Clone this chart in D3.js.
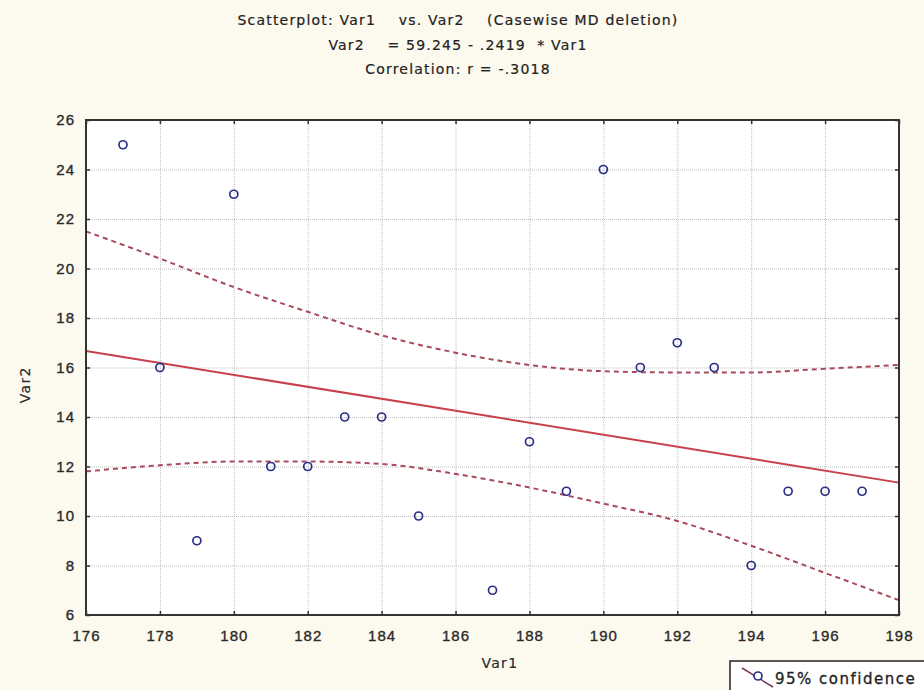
<!DOCTYPE html>
<html>
<head>
<meta charset="utf-8">
<script src="https://cdn.jsdelivr.net/npm/d3@7"></script>
<style>
  body { margin: 0; background: #fcf9ee; }
  svg { display: block; font-family: "DejaVu Sans", Verdana, sans-serif; }
  .grid line { stroke: #bdbdbd; stroke-dasharray: 1,1; }
  .grid path { display: none; }
  .axis path { display: none; }
  .axis line { stroke: #333; stroke-width: 1.5; }
  .axis text { font-size: 15px; fill: #2a2a2a; stroke: #2a2a2a; stroke-width: 0.35px; letter-spacing: 1px; }
  .title { font-size: 14px; fill: #222; stroke: #222; stroke-width: 0.2px; white-space: pre; letter-spacing: 1.2px; }
  .axis-label { font-size: 14px; fill: #2a2a2a; stroke: #2a2a2a; stroke-width: 0.2px; letter-spacing: 1.3px; }
</style>
</head>
<body>
<svg id="chart" width="924" height="690"></svg>
<script>
// observations
const var1 = [177, 178, 179, 180, 181, 182, 183, 184, 185, 187, 188, 189, 190, 191, 192, 193, 194, 195, 196, 197];
const var2 = [25, 16, 9, 23, 12, 12, 14, 14, 10, 7, 13, 11, 24, 16, 17, 16, 8, 11, 11, 11];

// regression (from title)
const intercept = 59.245;
const slope = -0.2419;

// 95% confidence band
const bandX = [176, 178, 180, 182, 184, 186, 188, 190, 192, 194, 196, 198];
const bandUpper = [21.5, 20.4, 19.25, 18.25, 17.3, 16.6, 16.1, 15.85, 15.8, 15.8, 15.95, 16.1];
const bandLower = [11.8, 12.05, 12.2, 12.2, 12.1, 11.7, 11.15, 10.5, 9.8, 8.8, 7.7, 6.6];

const xTicks = [176, 178, 180, 182, 184, 186, 188, 190, 192, 194, 196, 198];
const yTicks = [6, 8, 10, 12, 14, 16, 18, 20, 22, 24, 26];

const titleLines = [
    'Scatterplot: Var1    vs. Var2    (Casewise MD deletion)',
    'Var2    = 59.245 - .2419  * Var1',
    'Correlation: r = -.3018'
];

const margin = {top: 120, right: 25, bottom: 75, left: 86};
const width = 924 - margin.left - margin.right;
const height = 690 - margin.top - margin.bottom;

const root = d3.select('#chart');

// titles
root.selectAll('.title')
    .data(titleLines)
    .enter()
    .append('text')
    .attr('class', 'title')
    .attr('x', 458)
    .attr('y', (d, i) => 25 + i * 24.5)
    .attr('text-anchor', 'middle')
    .text(d => d);

const svg = root.append('g')
    .attr('transform', `translate(${margin.left},${margin.top})`);

const x = d3.scaleLinear().domain([176, 198]).range([0, width]);
const y = d3.scaleLinear().domain([6, 26]).range([height, 0]);

// plot background
svg.append('rect')
    .attr('width', width)
    .attr('height', height)
    .attr('fill', '#fff');

// grid lines
svg.append('g')
    .attr('class', 'grid')
    .call(d3.axisLeft(y).tickValues(yTicks).tickSize(-width).tickFormat(''));

svg.append('g')
    .attr('class', 'grid')
    .attr('transform', `translate(0,${height})`)
    .call(d3.axisBottom(x).tickValues(xTicks).tickSize(-height).tickFormat(''));

// confidence band
const band = d3.line()
    .x(d => x(d[0]))
    .y(d => y(d[1]))
    .curve(d3.curveMonotoneX);

[bandUpper, bandLower].forEach(vals => {
    svg.append('path')
        .datum(bandX.map((v, i) => [v, vals[i]]))
        .attr('d', band)
        .attr('fill', 'none')
        .attr('stroke', '#a84a5c')
        .attr('stroke-width', 2)
        .attr('stroke-dasharray', '5,4');
});

// regression line
svg.append('line')
    .attr('x1', x(176))
    .attr('y1', y(intercept + slope * 176))
    .attr('x2', x(198))
    .attr('y2', y(intercept + slope * 198))
    .attr('stroke', '#c8404c')
    .attr('stroke-width', 2);

// dots
svg.selectAll('circle.dot')
    .data(var1.map((v, i) => ({x: v, y: var2[i]})))
    .enter()
    .append('circle')
    .attr('class', 'dot')
    .attr('cx', d => x(d.x))
    .attr('cy', d => y(d.y))
    .attr('r', 4)
    .attr('fill', 'none')
    .attr('stroke', '#2b2f86')
    .attr('stroke-width', 1.7);

// axes: ticks point inward on all four sides
svg.append('g')
    .attr('class', 'axis')
    .attr('transform', `translate(0,${height})`)
    .call(d3.axisBottom(x).tickValues(xTicks).tickSize(-4).tickPadding(15))
    .selectAll('text').attr('dy', '0.71em');

svg.append('g')
    .attr('class', 'axis')
    .call(d3.axisTop(x).tickValues(xTicks).tickSize(-4).tickFormat(''));

svg.append('g')
    .attr('class', 'axis')
    .call(d3.axisLeft(y).tickValues(yTicks).tickSize(-4).tickPadding(11));

svg.append('g')
    .attr('class', 'axis')
    .attr('transform', `translate(${width},0)`)
    .call(d3.axisRight(y).tickValues(yTicks).tickSize(-4).tickFormat(''));

// frame
svg.append('rect')
    .attr('width', width)
    .attr('height', height)
    .attr('fill', 'none')
    .attr('stroke', '#333')
    .attr('stroke-width', 2);

// X axis label
svg.append('text')
    .attr('class', 'axis-label')
    .attr('text-anchor', 'middle')
    .attr('x', x(187.2))
    .attr('y', height + 53)
    .text('Var1');

// Y axis label
svg.append('text')
    .attr('class', 'axis-label')
    .attr('text-anchor', 'middle')
    .attr('transform', 'rotate(-90)')
    .attr('x', -y(15.3))
    .attr('y', -56)
    .text('Var2');

// legend
const legend = root.append('g').attr('transform', 'translate(730,661)');
legend.append('rect')
    .attr('width', 200)
    .attr('height', 34)
    .attr('fill', '#fff')
    .attr('stroke', '#222')
    .attr('stroke-width', 1.5);
legend.append('line')
    .attr('x1', 12).attr('y1', 7)
    .attr('x2', 43).attr('y2', 26)
    .attr('stroke', '#7a3a5a')
    .attr('stroke-width', 1.5);
legend.append('circle')
    .attr('cx', 28).attr('cy', 15).attr('r', 4)
    .attr('fill', '#fff')
    .attr('stroke', '#2b2f86')
    .attr('stroke-width', 1.7);
legend.append('text')
    .attr('x', 45)
    .attr('y', 23)
    .style('font-size', '15px')
    .style('letter-spacing', '1.5px')
    .style('fill', '#222')
    .style('stroke', '#222')
    .style('stroke-width', '0.3px')
    .text('95% confidence');
</script>
</body>
</html>
